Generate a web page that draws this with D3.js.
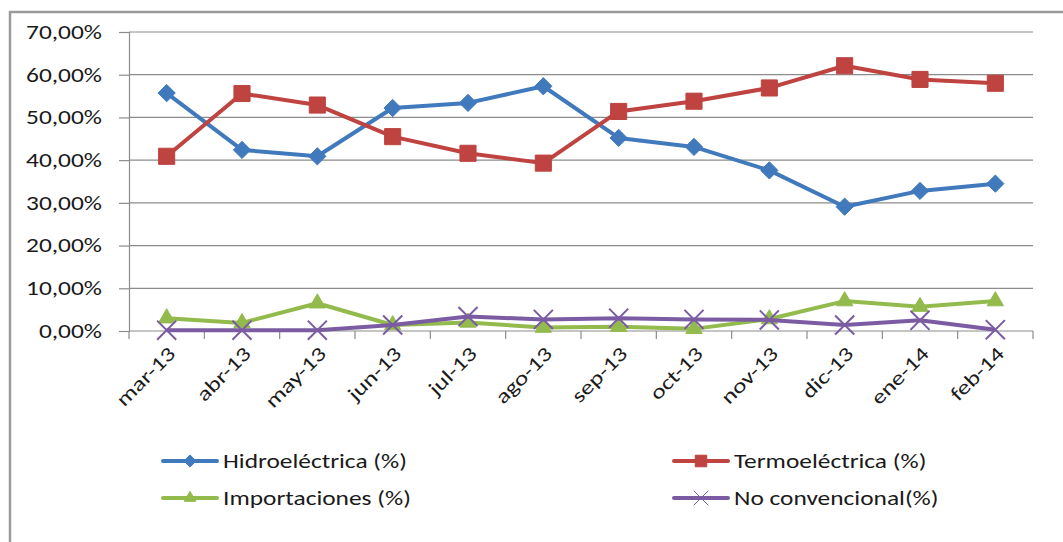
<!DOCTYPE html>
<html>
<head>
<meta charset="utf-8">
<script src="https://cdn.jsdelivr.net/npm/d3@7"></script>
<style>
  html, body { margin: 0; padding: 0; background: #fff; }
  svg { display: block; }
  text { font-family: Carlito, Lato, "Open Sans", sans-serif; fill: #1a1a1a; }
</style>
</head>
<body>
<svg id="chart" width="1063" height="542"></svg>
<script>
// Monthly share of electricity generation by source (percent)
const months = ["mar-13","abr-13","may-13","jun-13","jul-13","ago-13","sep-13","oct-13","nov-13","dic-13","ene-14","feb-14"];
const hidroelectrica = [55.7, 42.4, 40.9, 52.2, 53.4, 57.3, 45.2, 43.1, 37.6, 29.1, 32.8, 34.5];
const termoelectrica = [40.9, 55.6, 52.9, 45.5, 41.6, 39.3, 51.4, 53.8, 56.9, 62.1, 58.9, 58.0];
const importaciones  = [3.0, 1.9, 6.5, 1.4, 2.0, 0.8, 1.0, 0.5, 2.8, 7.0, 5.7, 7.0];
const noConvencional = [0.2, 0.2, 0.2, 1.4, 3.4, 2.7, 3.0, 2.7, 2.6, 1.4, 2.5, 0.3];
const yTicks = [0, 10, 20, 30, 40, 50, 60, 70];
const seriesNames = ["Hidroeléctrica (%)", "Termoeléctrica (%)", "Importaciones (%)", "No convencional(%)"];

const series = [
  { name: seriesNames[0], values: hidroelectrica, color: "#4179BD", symbol: d3.symbolDiamond2, size: 190, leg: 95 },
  { name: seriesNames[1], values: termoelectrica, color: "#BE4341", symbol: d3.symbolSquare2, size: 330, leg: 170 },
  { name: seriesNames[2], values: importaciones,  color: "#93BA4C", symbol: d3.symbolTriangle2, size: 190, leg: 95 },
  { name: seriesNames[3], values: noConvencional, color: "#7B5CA3", symbol: d3.symbolTimes, size: 240, leg: 140 }
];

// Text is drawn with a wide horizontal proportion
const stretch = 1.27;

const svg = d3.select("#chart");
const plot = { left: 129, right: 1033, top: 32, bottom: 331 };

// Chart frame (top and left edges)
svg.append("path")
  .attr("d", "M10,542 L10,12 L1063,12")
  .attr("fill", "none").attr("stroke", "#9a9a9a").attr("stroke-width", 2.5);

const x = d3.scaleBand().domain(months).range([plot.left, plot.right]).paddingInner(0).paddingOuter(0);
const cx = m => x(m) + x.bandwidth() / 2;
const y = d3.scaleLinear().domain([0, 70]).range([plot.bottom, plot.top]);

const es = d3.formatLocale({ decimal: ",", thousands: ".", grouping: [3], currency: ["", " €"] });
const fmt = es.format(".2%");

// Horizontal gridlines
svg.append("g").selectAll("line").data(yTicks.filter(d => d > 0)).join("line")
  .attr("x1", plot.left).attr("x2", plot.right)
  .attr("y1", d => y(d)).attr("y2", d => y(d))
  .attr("stroke", "#8c8c8c").attr("stroke-width", 1.2);

// Y axis
const yAxis = svg.append("g").attr("transform", `translate(${plot.left},0)`)
  .call(d3.axisLeft(y).tickValues(yTicks).tickSize(10).tickPadding(17).tickFormat(d => fmt(d / 100)));
yAxis.select(".domain").attr("stroke", "#8c8c8c").attr("stroke-width", 1.2);
yAxis.selectAll(".tick line").attr("stroke", "#8c8c8c").attr("stroke-width", 1.2);
yAxis.selectAll(".tick text")
  .attr("x", 0)
  .attr("transform", `translate(-27,0) scale(${stretch},1)`)
  .attr("font-size", 20).attr("fill", "#1a1a1a")
  .attr("font-family", "Carlito, Lato, 'Open Sans', sans-serif");

// X axis: baseline with ticks between categories
const xg = svg.append("g");
xg.append("line").attr("x1", plot.left).attr("x2", plot.right)
  .attr("y1", plot.bottom).attr("y2", plot.bottom)
  .attr("stroke", "#8c8c8c").attr("stroke-width", 1.2);
const bounds = months.map(m => x(m)).concat([plot.right]);
xg.selectAll("line.tk").data(bounds).join("line").attr("class", "tk")
  .attr("x1", d => d).attr("x2", d => d)
  .attr("y1", plot.bottom).attr("y2", plot.bottom + 8)
  .attr("stroke", "#8c8c8c").attr("stroke-width", 1.2);
xg.selectAll("text").data(months).join("text")
  .attr("transform", m => `translate(${cx(m) + 10},${plot.bottom + 24}) rotate(-45) scale(${stretch},1)`)
  .attr("text-anchor", "end")
  .attr("font-size", 20)
  .text(m => m);

// Series lines and markers
const line = d3.line().x((d, i) => cx(months[i])).y(d => y(d));
series.forEach(s => {
  const g = svg.append("g");
  g.append("path").attr("d", line(s.values))
    .attr("fill", "none").attr("stroke", s.color).attr("stroke-width", 4).attr("stroke-linejoin", "round");
  const sym = d3.symbol().type(s.symbol).size(s.size);
  g.selectAll("path.m").data(s.values).join("path").attr("class", "m")
    .attr("transform", (d, i) => `translate(${cx(months[i])},${y(d)})`)
    .attr("d", sym())
    .attr("fill", s.symbol === d3.symbolTimes ? "none" : s.color)
    .attr("stroke", s.color)
    .attr("stroke-width", s.symbol === d3.symbolTimes ? 2 : 1);
});

// Legend
const legendPos = [
  { x: 163, y: 461 }, { x: 674, y: 461 },
  { x: 163, y: 498 }, { x: 674, y: 498 }
];
series.forEach((s, i) => {
  const p = legendPos[i];
  const g = svg.append("g").attr("transform", `translate(${p.x},${p.y})`);
  g.append("line").attr("x1", 0).attr("x2", 54).attr("y1", 0).attr("y2", 0)
    .attr("stroke", s.color).attr("stroke-width", 4).attr("stroke-linecap", "round");
  g.append("path").attr("transform", "translate(27,0)")
    .attr("d", d3.symbol().type(s.symbol).size(s.leg)())
    .attr("fill", s.symbol === d3.symbolTimes ? "none" : s.color)
    .attr("stroke", s.color).attr("stroke-width", 1);
  g.append("text").attr("transform", `translate(60,7) scale(${stretch},1)`)
    .attr("font-size", 20).text(s.name);
});
</script>
</body>
</html>
